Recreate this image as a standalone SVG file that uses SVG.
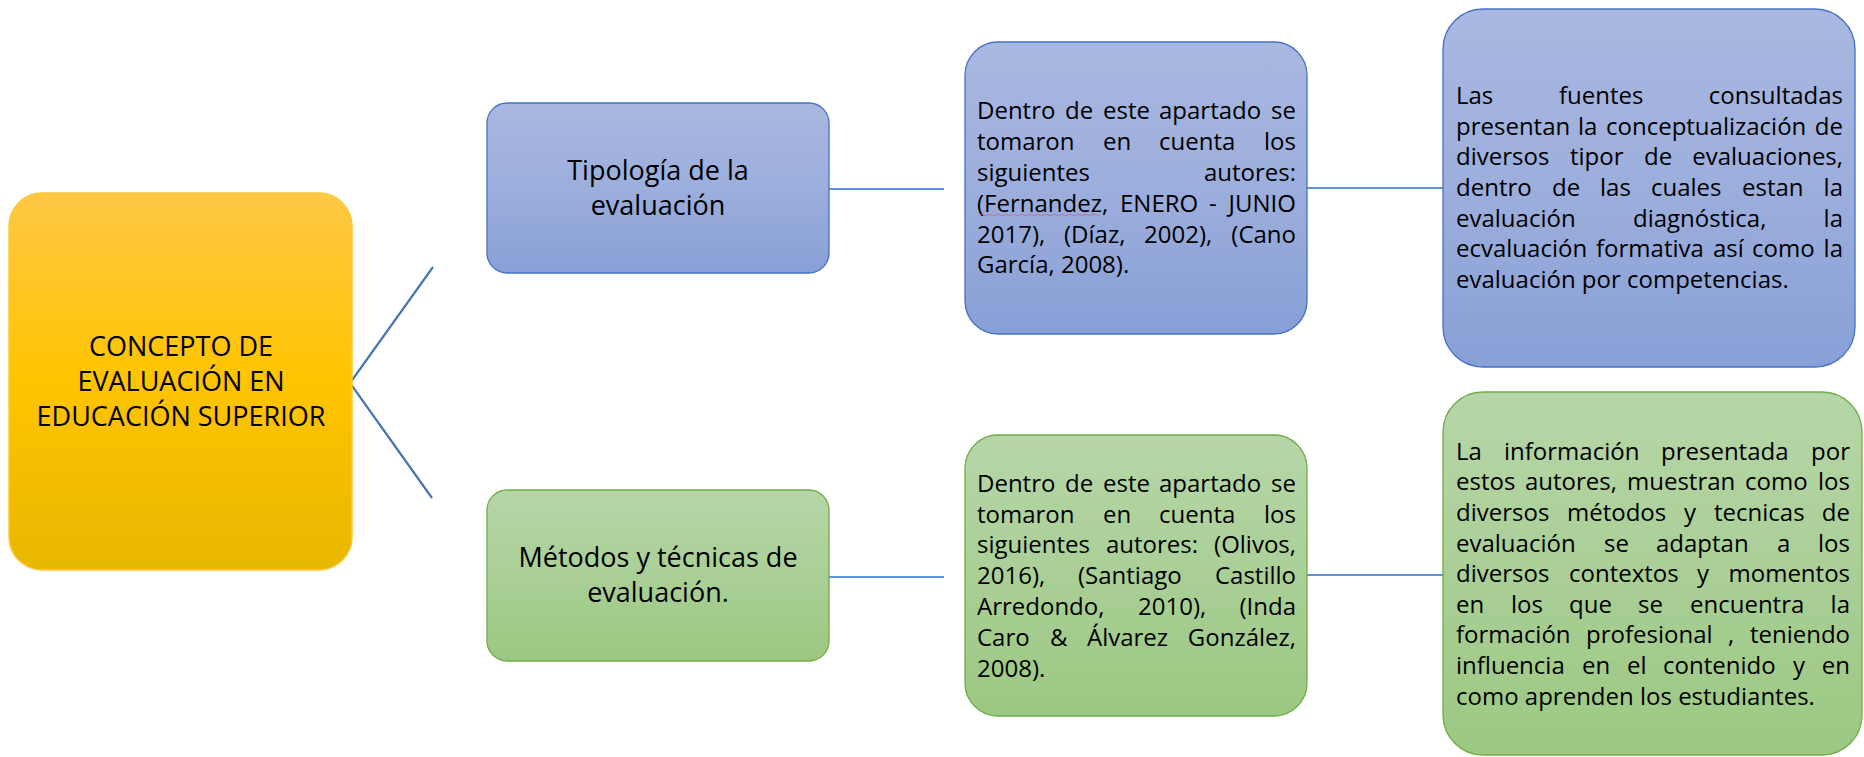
<svg xmlns="http://www.w3.org/2000/svg" width="1864" height="757" viewBox="0 0 1864 757">
<defs>
<linearGradient id="gGold" x1="0" y1="0" x2="0" y2="1">
<stop offset="0" stop-color="#FFC845"/>
<stop offset="0.5" stop-color="#FFC400"/>
<stop offset="1" stop-color="#E8B800"/>
</linearGradient>
<linearGradient id="gBlue" x1="0" y1="0" x2="0" y2="1">
<stop offset="0" stop-color="#A9B8E0"/>
<stop offset="0.5" stop-color="#9CAEDC"/>
<stop offset="1" stop-color="#88A0D7"/>
</linearGradient>
<linearGradient id="gGreen" x1="0" y1="0" x2="0" y2="1">
<stop offset="0" stop-color="#B6D6A8"/>
<stop offset="0.5" stop-color="#AACF96"/>
<stop offset="1" stop-color="#9CC882"/>
</linearGradient>
</defs>
<style>
.gold{fill:url(#gGold);stroke:#FFC838;stroke-width:1.5}
.blue{fill:url(#gBlue);stroke:#4472C4;stroke-width:1.3}
.green{fill:url(#gGreen);stroke:#70AD47;stroke-width:1.3}
.t{font-family:'Open Sans','Liberation Sans',sans-serif;font-size:24px;fill:#000}
.e{text-anchor:end}
.big{font-family:'Open Sans','Liberation Sans',sans-serif;font-size:27px;fill:#000;text-anchor:middle}
.fork{stroke:#4677B0;stroke-width:2.2;fill:none}
.hl{stroke:#5B93D3;stroke-width:2.2;fill:none}
</style>
<rect width="1864" height="757" fill="#FFFFFF"/>

<g id="connectors">
<polyline class="fork" points="433,267 350,383 432,498"/>
<line class="hl" x1="829" y1="189" x2="944" y2="189"/>
<line class="hl" x1="1307" y1="188" x2="1443" y2="188"/>
<line class="hl" x1="829" y1="577" x2="944" y2="577"/>
<line class="hl" x1="1307" y1="575" x2="1443" y2="575"/>
</g>

<g id="concepto">
<rect class="gold" x="9" y="193" width="343" height="377" rx="33"/>
<text class="big" x="181" y="356">CONCEPTO DE</text>
<text class="big" x="181" y="391">EVALUACIÓN EN</text>
<text class="big" x="181" y="426">EDUCACIÓN SUPERIOR</text>
</g>

<g id="tipologia">
<rect class="blue" x="487" y="103" width="342" height="170" rx="20"/>
<text class="big" x="658" y="180">Tipología de la</text>
<text class="big" x="658" y="215">evaluación</text>
</g>

<g id="metodos">
<rect class="green" x="487" y="490" width="342" height="171" rx="20"/>
<text class="big" x="658" y="567">Métodos y técnicas de</text>
<text class="big" x="658" y="602">evaluación.</text>
</g>

<g id="autores1">
<rect class="blue" x="965" y="42" width="342" height="292" rx="33"/>
<text class="t" x="977" y="119">Dentro</text><text class="t" x="1065" y="119">de</text><text class="t" x="1103" y="119">este</text><text class="t" x="1159" y="119">apartado</text><text class="t e" x="1296" y="119">se</text>
<text class="t" x="977" y="150">tomaron</text><text class="t" x="1103" y="150">en</text><text class="t" x="1159" y="150">cuenta</text><text class="t e" x="1296" y="150">los</text>
<text class="t" x="977" y="181">siguientes</text><text class="t e" x="1296" y="181">autores:</text>
<text class="t" x="977" y="212">(Fernandez,</text><text class="t" x="1120" y="212">ENERO</text><text class="t" x="1209" y="212">-</text><text class="t e" x="1296" y="212">JUNIO</text>
<text class="t" x="977" y="243">2017),</text><text class="t" x="1064" y="243">(Díaz,</text><text class="t" x="1144" y="243">2002),</text><text class="t e" x="1296" y="243">(Cano</text>
<text class="t" x="977" y="273">García, 2008).</text>
<path d="M980,215 q2,-1.5 4,0 t4,0 t4,0 t4,0 t4,0 t4,0 t4,0 t4,0 t4,0 t4,0 t4,0 t4,0 t4,0 t4,0 t4,0 t4,0 t4,0 t4,0 t4,0 t4,0 t4,0 t4,0 t4,0 t4,0 t4,0 t4,0 t4,0 t4,0 t4,0 t4,0" fill="none" stroke="#C8587A" stroke-width="0.8" opacity="0.8"/>
</g>

<g id="autores2">
<rect class="green" x="965" y="435" width="342" height="281" rx="33"/>
<text class="t" x="977" y="492">Dentro</text><text class="t" x="1065" y="492">de</text><text class="t" x="1103" y="492">este</text><text class="t" x="1159" y="492">apartado</text><text class="t e" x="1296" y="492">se</text>
<text class="t" x="977" y="523">tomaron</text><text class="t" x="1103" y="523">en</text><text class="t" x="1159" y="523">cuenta</text><text class="t e" x="1296" y="523">los</text>
<text class="t" x="977" y="553">siguientes</text><text class="t" x="1106" y="553">autores:</text><text class="t e" x="1296" y="553">(Olivos,</text>
<text class="t" x="977" y="584">2016),</text><text class="t" x="1078" y="584">(Santiago</text><text class="t e" x="1296" y="584">Castillo</text>
<text class="t" x="977" y="615">Arredondo,</text><text class="t" x="1138" y="615">2010),</text><text class="t e" x="1296" y="615">(Inda</text>
<text class="t" x="977" y="646">Caro</text><text class="t" x="1050" y="646">&amp;</text><text class="t" x="1087" y="646">Álvarez</text><text class="t e" x="1296" y="646">González,</text>
<text class="t" x="977" y="677">2008).</text>
</g>

<g id="fuentes">
<rect class="blue" x="1443" y="9" width="412" height="358" rx="40"/>
<text class="t" x="1456" y="104">Las</text><text class="t" x="1559" y="104">fuentes</text><text class="t e" x="1843" y="104">consultadas</text>
<text class="t" x="1456" y="135">presentan</text><text class="t" x="1578" y="135">la</text><text class="t" x="1606" y="135">conceptualización</text><text class="t e" x="1843" y="135">de</text>
<text class="t" x="1456" y="165">diversos</text><text class="t" x="1570" y="165">tipor</text><text class="t" x="1644" y="165">de</text><text class="t e" x="1843" y="165">evaluaciones,</text>
<text class="t" x="1456" y="196">dentro</text><text class="t" x="1552" y="196">de</text><text class="t" x="1600" y="196">las</text><text class="t" x="1651" y="196">cuales</text><text class="t" x="1742" y="196">estan</text><text class="t e" x="1843" y="196">la</text>
<text class="t" x="1456" y="227">evaluación</text><text class="t" x="1633" y="227">diagnóstica,</text><text class="t e" x="1843" y="227">la</text>
<text class="t" x="1456" y="257">ecvaluación</text><text class="t" x="1596" y="257">formativa</text><text class="t" x="1713" y="257">así</text><text class="t" x="1752" y="257">como</text><text class="t e" x="1843" y="257">la</text>
<text class="t" x="1456" y="288">evaluación por competencias.</text>
</g>

<g id="informacion">
<rect class="green" x="1443" y="392" width="419" height="363" rx="40"/>
<text class="t" x="1456" y="460">La</text><text class="t" x="1504" y="460">información</text><text class="t" x="1661" y="460">presentada</text><text class="t e" x="1850" y="460">por</text>
<text class="t" x="1456" y="490">estos</text><text class="t" x="1525" y="490">autores,</text><text class="t" x="1627" y="490">muestran</text><text class="t" x="1745" y="490">como</text><text class="t e" x="1850" y="490">los</text>
<text class="t" x="1456" y="521">diversos</text><text class="t" x="1567" y="521">métodos</text><text class="t" x="1684" y="521">y</text><text class="t" x="1714" y="521">tecnicas</text><text class="t e" x="1850" y="521">de</text>
<text class="t" x="1456" y="552">evaluación</text><text class="t" x="1604" y="552">se</text><text class="t" x="1656" y="552">adaptan</text><text class="t" x="1777" y="552">a</text><text class="t e" x="1850" y="552">los</text>
<text class="t" x="1456" y="582">diversos</text><text class="t" x="1569" y="582">contextos</text><text class="t" x="1697" y="582">y</text><text class="t e" x="1850" y="582">momentos</text>
<text class="t" x="1456" y="613">en</text><text class="t" x="1511" y="613">los</text><text class="t" x="1569" y="613">que</text><text class="t" x="1638" y="613">se</text><text class="t" x="1690" y="613">encuentra</text><text class="t e" x="1850" y="613">la</text>
<text class="t" x="1456" y="643">formación</text><text class="t" x="1586" y="643">profesional</text><text class="t" x="1728" y="643">,</text><text class="t e" x="1850" y="643">teniendo</text>
<text class="t" x="1456" y="674">influencia</text><text class="t" x="1582" y="674">en</text><text class="t" x="1627" y="674">el</text><text class="t" x="1663" y="674">contenido</text><text class="t" x="1793" y="674">y</text><text class="t e" x="1850" y="674">en</text>
<text class="t" x="1456" y="705">como aprenden los estudiantes.</text>
</g>
</svg>
